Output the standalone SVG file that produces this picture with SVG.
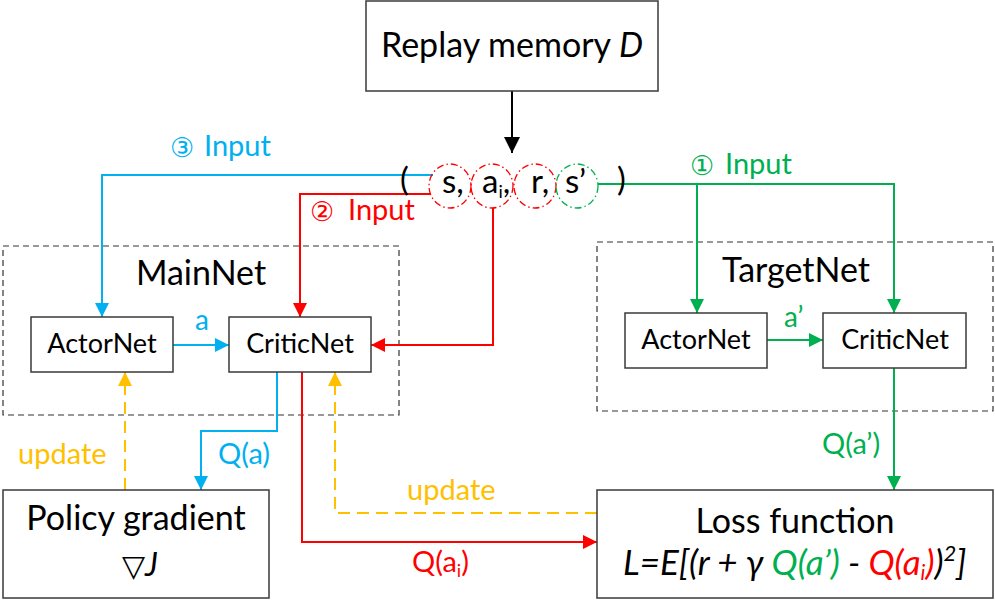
<svg xmlns="http://www.w3.org/2000/svg" width="995" height="606" viewBox="0 0 995 606">
<style>
text{font-family:"Lato","Carlito","Liberation Sans",sans-serif;}
.box{fill:#fff;stroke:#3a3a3a;stroke-width:1.5;}
.grp{fill:none;stroke:#333;stroke-width:1.2;stroke-dasharray:6,4;}
.c{fill:none;stroke-width:2;}
.blue{stroke:#00B0F0;} .red{stroke:#FF0000;} .green{stroke:#00B050;} .yel{stroke:#FFC000;stroke-dasharray:12,7;}
.big{font-size:34px;fill:#000;}
.mid{font-size:27px;fill:#000;}
.lab{font-size:29px;}
.tup{font-size:33px;fill:#000;}
.circ{font-family:"DejaVu Sans",sans-serif;font-size:27px;}
.ring{fill:none;stroke-width:1.3;stroke-dasharray:7,3,1.5,3;}
</style>
<defs>
<marker id="ab" markerUnits="userSpaceOnUse" markerWidth="14" markerHeight="14" refX="14" refY="7" orient="auto"><path d="M0,0L14,7L0,14z" fill="#00B0F0"/></marker>
<marker id="ar" markerUnits="userSpaceOnUse" markerWidth="14" markerHeight="14" refX="14" refY="7" orient="auto"><path d="M0,0L14,7L0,14z" fill="#FF0000"/></marker>
<marker id="ag" markerUnits="userSpaceOnUse" markerWidth="14" markerHeight="14" refX="14" refY="7" orient="auto"><path d="M0,0L14,7L0,14z" fill="#00B050"/></marker>
<marker id="ay" markerUnits="userSpaceOnUse" markerWidth="14" markerHeight="14" refX="14" refY="7" orient="auto"><path d="M0,0L14,7L0,14z" fill="#FFC000"/></marker>
<marker id="ak" markerUnits="userSpaceOnUse" markerWidth="16" markerHeight="16" refX="16" refY="8" orient="auto"><path d="M0,0L16,8L0,16z" fill="#000"/></marker>
</defs>

<g id="mainnet-group">
<rect class="grp" x="3" y="246" width="396" height="169"/>
<text class="big" x="201" y="285" text-anchor="middle">MainNet</text>
</g>
<g id="targetnet-group">
<rect class="grp" x="597" y="242" width="396" height="169"/>
<text class="big" x="796" y="282" text-anchor="middle">TargetNet</text>
</g>

<g id="connectors">
<path class="c" stroke="#000" d="M512,91V153" marker-end="url(#ak)"/>
<path class="c blue" d="M433,175H102V317" marker-end="url(#ab)"/>
<path class="c red" d="M430,194H300V317" marker-end="url(#ar)"/>
<path class="c red" d="M493,208V345H371" marker-end="url(#ar)"/>
<path class="c green" d="M598,184H894V313" marker-end="url(#ag)"/>
<path class="c green" d="M697,184V313" marker-end="url(#ag)"/>
<path class="c blue" d="M173,345H229" marker-end="url(#ab)"/>
<path class="c green" d="M767,340H823" marker-end="url(#ag)"/>
<path class="c green" d="M894,368V490" marker-end="url(#ag)"/>
<path class="c blue" d="M277,372V431H201V490" marker-end="url(#ab)"/>
<path class="c red" d="M302,372V542H597" marker-end="url(#ar)"/>
<path class="c yel" d="M597,513H335V372" marker-end="url(#ay)"/>
<path class="c yel" d="M125,490V372" marker-end="url(#ay)"/>
</g>

<g id="labels">
<text class="circ" x="170" y="157" fill="#00B0F0">③</text>
<text class="lab" x="204" y="156" fill="#00B0F0">Input</text>
<text class="circ" x="310" y="221" fill="#FF0000">②</text>
<text class="lab" x="348" y="220" fill="#FF0000">Input</text>
<text class="circ" x="690" y="175" fill="#00B050">①</text>
<text class="lab" x="725" y="174" fill="#00B050">Input</text>
<text x="195" y="330" style="font-size:28px;fill:#00B0F0">a</text>
<text x="784" y="327" style="font-size:28px;fill:#00B050">a’</text>
<text class="lab" x="822" y="454" fill="#00B050">Q(a’)</text>
<text class="lab" x="218" y="464" fill="#00B0F0">Q(a)</text>
<text class="lab" x="18" y="464" fill="#FFC000">update</text>
<text class="lab" x="407" y="500" fill="#FFC000">update</text>
<text class="lab" x="412" y="572" fill="#FF0000">Q(a<tspan font-size="18" dy="5">i</tspan><tspan dy="-5">)</tspan></text>
</g>

<g id="replay-memory">
<rect class="box" x="366" y="1" width="292" height="90"/>
<text class="big" x="512" y="57" text-anchor="middle">Replay memory <tspan font-style="italic">D</tspan></text>
</g>

<g id="tuple">
<ellipse class="ring red" cx="450" cy="186" rx="21" ry="22"/>
<ellipse class="ring red" cx="492" cy="186" rx="21" ry="22"/>
<ellipse class="ring red" cx="535" cy="186" rx="21" ry="22"/>
<ellipse class="ring green" cx="577" cy="186" rx="21" ry="22"/>
<text class="tup" x="400" y="191">(</text>
<text class="tup" x="442" y="193">s,</text>
<text class="tup" x="482" y="193">a<tspan font-size="18" dy="5">i</tspan><tspan dy="-5">,</tspan></text>
<text class="tup" x="531" y="193">r,</text>
<text class="tup" x="565" y="193">s’</text>
<text class="tup" x="617" y="191">)</text>
</g>

<g id="main-actornet">
<rect class="box" x="31" y="317" width="142" height="55"/>
<text class="mid" x="102" y="353" text-anchor="middle">ActorNet</text>
</g>
<g id="main-criticnet">
<rect class="box" x="229" y="317" width="142" height="55"/>
<text class="mid" x="300" y="353" text-anchor="middle">CriticNet</text>
</g>
<g id="target-actornet">
<rect class="box" x="625" y="313" width="142" height="55"/>
<text class="mid" x="696" y="349" text-anchor="middle">ActorNet</text>
</g>
<g id="target-criticnet">
<rect class="box" x="823" y="313" width="143" height="55"/>
<text class="mid" x="895" y="349" text-anchor="middle">CriticNet</text>
</g>

<g id="policy-gradient">
<rect class="box" x="3" y="490" width="266" height="108"/>
<text class="big" x="136" y="530" text-anchor="middle">Policy gradient</text>
<text x="122" y="576" font-size="32" fill="#000"><tspan font-family="DejaVu Sans, sans-serif" font-size="30">▽</tspan><tspan font-style="italic">J</tspan></text>
</g>

<g id="loss-function">
<rect class="box" x="597" y="490" width="396" height="108"/>
<text class="big" x="795" y="533" text-anchor="middle">Loss function</text>
<text x="623" y="575" font-size="35" font-style="italic" fill="#000">L=E[(r + γ <tspan fill="#00B050">Q(a’)</tspan> - <tspan fill="#FF0000">Q(a<tspan font-size="21" dy="5">i</tspan><tspan dy="-5">)</tspan></tspan>)<tspan font-size="22" dy="-14">2</tspan><tspan dy="14">]</tspan></text>
</g>
</svg>
